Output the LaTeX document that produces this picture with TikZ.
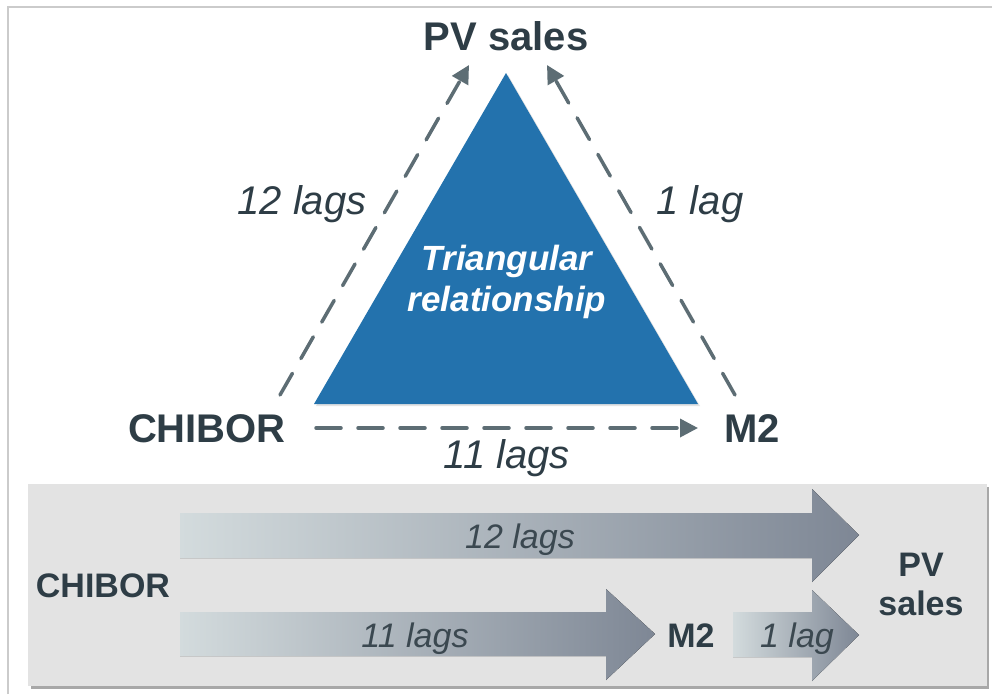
\documentclass[tikz,border=0pt]{standalone}
\usepackage{fontspec}
\setmainfont{Liberation Sans}
\usetikzlibrary{arrows.meta,shadows}

\definecolor{ink}{HTML}{2E3D46}
\definecolor{inksoft}{HTML}{3B4850}
\definecolor{linkgray}{HTML}{5D6D74}
\definecolor{triblue}{HTML}{2372AD}
\definecolor{panelgray}{HTML}{E3E3E3}
\definecolor{panelshade}{HTML}{A8A8A8}
\definecolor{framegray}{HTML}{CBCBCB}
\definecolor{flowlight}{HTML}{D3DBDD}
\definecolor{flowdark}{HTML}{7E8795}

\tikzset{
  bigbold/.style={font=\fontsize{40}{48}\selectfont\bfseries, text=ink, inner sep=0pt, anchor=base},
  bigital/.style={font=\fontsize{40}{48}\selectfont\itshape, text=ink, inner sep=0pt, anchor=base},
  smallbold/.style={font=\fontsize{34}{40}\selectfont\bfseries, text=ink, inner sep=0pt, anchor=base},
  smallital/.style={font=\fontsize{34}{40}\selectfont\itshape, text=inksoft, inner sep=0pt, anchor=base},
  link/.style={draw=linkgray, line width=3.5pt, line cap=round,
    dash pattern=on 25pt off 17pt,
    -{Triangle[length=18pt,width=18pt,line cap=butt]}},
  flow/.style={left color=flowlight, right color=flowdark, draw=none}
}

\begin{document}
\begin{tikzpicture}[x=1pt,y=-1pt]
\useasboundingbox (0,0) rectangle (992,694);
\fill[white] (0,0) rectangle (992,694);
\draw[framegray, line width=1.5pt] (8,694) -- (8,7) -- (992,7);

% ---- upper part: triangle of lagged relations ----
\fill[triblue, drop shadow={shadow xshift=2pt, shadow yshift=-2pt, opacity=0.22}]
  (506,73) -- (698,404) -- (314,404) -- cycle;
\node[font=\fontsize{35}{41}\selectfont\bfseries\itshape, text=white, align=center, inner sep=0pt]
  (tri) at (507,282) {Triangular\\relationship};

\node[bigbold] (pv) at (506,50) {PV sales};
\node[bigbold] (chibor) at (207,442) {CHIBOR};
\node[bigbold] (m2) at (752,442) {M2};

\coordinate (chiborUp) at (280,395);
\coordinate (pvLeft) at (469,65);
\coordinate (m2Up) at (735,395);
\coordinate (pvRight) at (547,65);
\coordinate (chiborRight) at (316,428);
\coordinate (m2Left) at (698,428);

\draw[link] (chiborUp) -- (pvLeft);
\draw[link] (m2Up) -- (pvRight);
\draw[link] (chiborRight) -- (m2Left);

\node[bigital] (lagA) at (302,214) {12 lags};
\node[bigital] (lagB) at (700,214) {1 lag};
\node[bigital] (lagC) at (507,468) {11 lags};

% ---- lower part: timeline panel ----
\fill[panelshade] (31,487) rectangle (989,689);
\fill[panelgray] (28,484) rectangle (987,686);

\fill[flow] (180,513) -- (812,513) -- (812,489) -- (859,535) -- (812,582)
  -- (812,558) -- (180,558) -- cycle;
\fill[flow] (180,612) -- (606,612) -- (606,589) -- (655,634) -- (606,680)
  -- (606,656) -- (180,656) -- cycle;
\fill[flow] (733,612) -- (812,612) -- (812,590) -- (859,635) -- (812,681)
  -- (812,657) -- (733,657) -- cycle;

\node[smallital] (flowA) at (520,548) {12 lags};
\node[smallital] (flowB) at (415,647) {11 lags};
\node[smallital] (flowC) at (797,647) {1 lag};

\node[smallbold] (chiborB) at (103,597) {CHIBOR};
\node[smallbold] (m2B) at (691,647) {M2};
\node[smallbold] (pvB) at (921,576) {PV};
\node[smallbold] (salesB) at (921,615) {sales};
\end{tikzpicture}
\end{document}
